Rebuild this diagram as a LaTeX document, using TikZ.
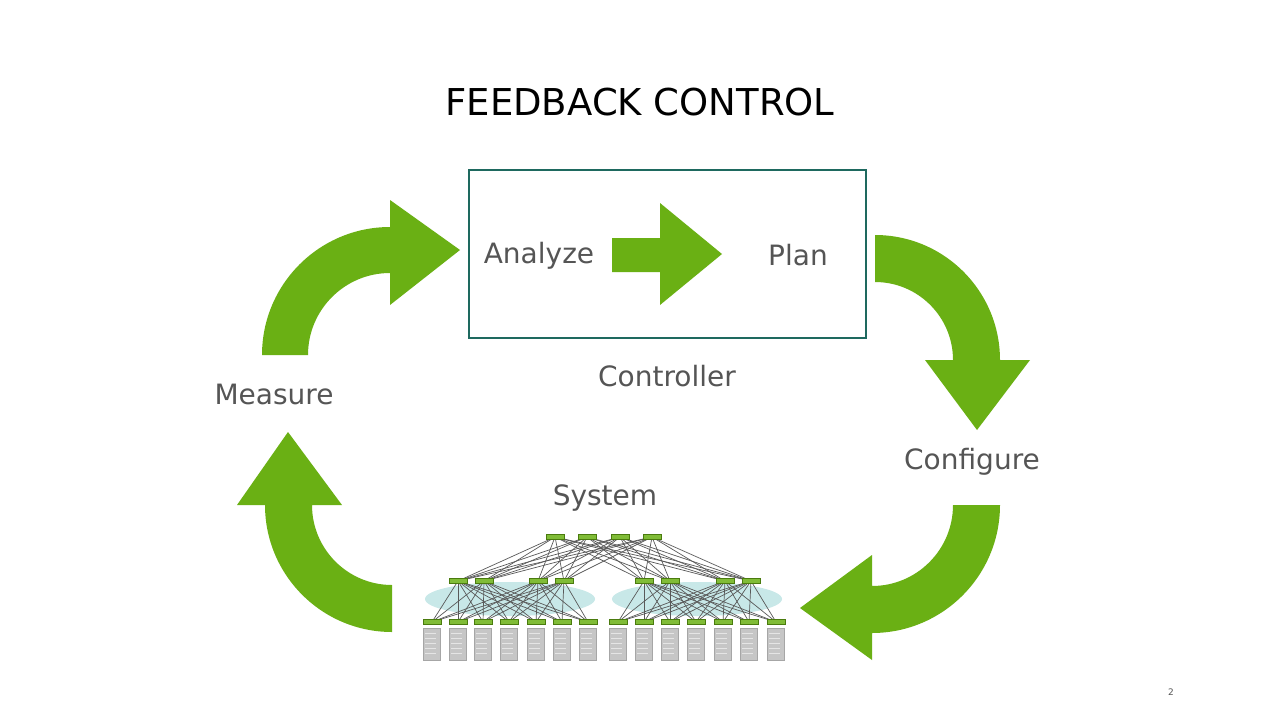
\documentclass[tikz,border=0pt]{standalone}
\usepackage{fontspec}
\setmainfont{DejaVu Sans}
\definecolor{nvg}{RGB}{106,176,20}
\definecolor{boxc}{RGB}{30,105,95}
\definecolor{lbl}{RGB}{85,85,85}
\definecolor{pod}{RGB}{200,232,232}
\begin{document}
\begin{tikzpicture}[x=1pt,y=-1pt,
  lab/.style={text=lbl,font=\fontsize{28}{30}\selectfont,inner sep=0},
  sw/.style={draw=nvg!70!black,fill=nvg!85,minimum width=18pt,minimum height=5pt,inner sep=0,line width=0.3pt},
  srv/.style={draw=gray!70,fill=gray!45,minimum width=17pt,minimum height=32pt,inner sep=0,anchor=north,line width=0.4pt},
  link/.style={draw=black!65,line width=0.7pt},
  bigarrow/.style={fill=nvg}]
\useasboundingbox[fill=white] (0,0) rectangle (1280,720);
\node[font=\fontsize{37}{40}\selectfont,text=black] (title) at (640,102) {FEEDBACK CONTROL};
\node[draw=boxc,line width=1.3pt,minimum width=397pt,minimum height=168pt,inner sep=0] (ctrl) at (667.5,254) {};
\node[lab] (analyze) at (539,256) {Analyze};
\node[lab] (plan) at (798,255) {Plan};
\node[lab] (controller) at (667,376) {Controller};
\node[lab] (measure) at (274,394) {Measure};
\node[lab] (configure) at (972,462) {Configure};
\node[lab] (system) at (605,498) {System};
\node[font=\fontsize{9}{10}\selectfont,text=lbl] (pg) at (1171,692) {2};
% arrows
\fill[bigarrow] (612,238) -- (660,238) -- (660,203) -- (722,254) -- (660,305) -- (660,272) -- (612,272) -- cycle;
\fill[bigarrow] (262,355) arc[start angle=180,end angle=270,radius=128] -- (390,200) -- (460,250) -- (390,305) -- (390,273) arc[start angle=270,end angle=180,radius=82] -- cycle;
\fill[bigarrow] (875,235) arc[start angle=270,end angle=360,radius=125] -- (1030,360) -- (977,430) -- (925,360) -- (953,360) arc[start angle=360,end angle=270,radius=78] -- cycle;
\fill[bigarrow] (1000,505) arc[start angle=0,end angle=90,radius=128] -- (872,660) -- (800,608) -- (872,555) -- (872,586) arc[start angle=90,end angle=0,radius=81] -- cycle;
\fill[bigarrow] (392,632) arc[start angle=90,end angle=180,radius=127] -- (237,505) -- (288,432) -- (342,505) -- (312,505) arc[start angle=180,end angle=90,radius=80] -- cycle;
% pods
\fill[pod] (510,599) ellipse[x radius=85,y radius=17];
\fill[pod] (697,599) ellipse[x radius=85,y radius=17];
% switches
\foreach \x [count=\i] in {555,587,620,652} \node[sw] (s\i) at (\x,537) {};
\foreach \x [count=\i] in {458,484,538,564,644,670,725,751} \node[sw] (a\i) at (\x,581) {};
\foreach \x [count=\i] in {432,458,483,509,536,562,588,618,644,670,696,723,749,776} {
  \node[sw] (l\i) at (\x,622) {};
  \node[srv] (v\i) at (\x,628) {};
  \foreach \yy in {5,10,15,20,25} \draw[white!80!gray,line width=0.6pt] ([xshift=2pt,yshift=-\yy pt]v\i.north west) -- ([xshift=-5pt,yshift=-\yy pt]v\i.north east);
}
\foreach \i in {1,...,4} \foreach \j in {1,...,8} \draw[link] (s\i) -- (a\j);
\foreach \j in {1,...,4} \foreach \k in {1,...,7} \draw[link] (a\j) -- (l\k);
\foreach \j in {5,...,8} \foreach \k in {8,...,14} \draw[link] (a\j) -- (l\k);
\foreach \i in {1,...,4} \node[sw] at (s\i) {};
\foreach \i in {1,...,8} \node[sw] at (a\i) {};
\foreach \i in {1,...,14} \node[sw] at (l\i) {};
\end{tikzpicture}
\end{document}
